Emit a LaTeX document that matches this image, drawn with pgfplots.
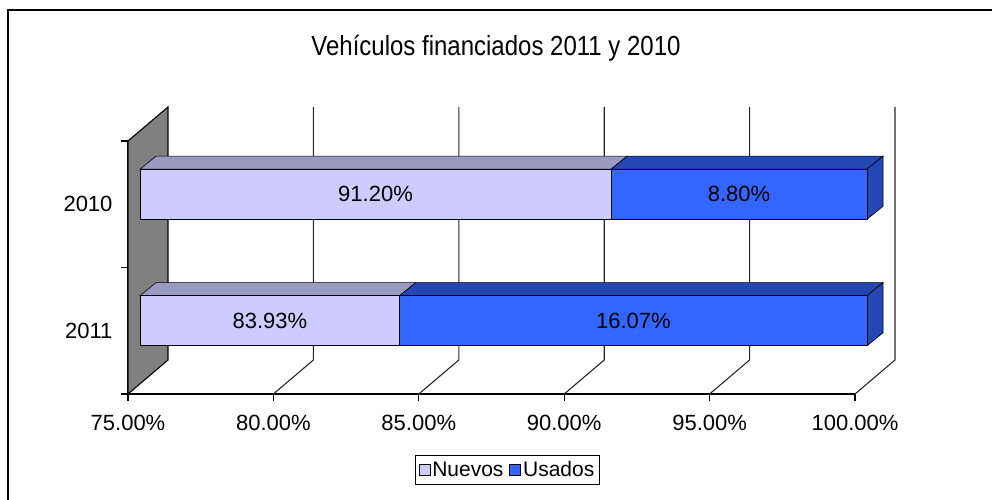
\documentclass[border=0pt]{standalone}
\usepackage{fontspec}
\setmainfont{Liberation Sans}
\usepackage{pgfplots}
\pgfplotsset{compat=1.18}

\definecolor{nuevos}{HTML}{CCCCFF}
\definecolor{nuevostop}{HTML}{9999C2}
\definecolor{usados}{HTML}{3366FF}
\definecolor{usadostop}{HTML}{2447B5}
\definecolor{wall}{HTML}{808080}

\begin{document}
\begin{tikzpicture}
\useasboundingbox (-128pt,-106pt) rectangle (864pt,394pt);
\draw[line width=1.2pt] (-120pt,-106pt) -- (-120pt,384pt) -- (864pt,384pt);
\node[font=\fontsize{24}{28}\selectfont] at (368pt,346pt) {\scalebox{1}[1.15]{Vehículos financiados 2011 y 2010}};

% front plane axis: ticks, labels, walls
\begin{axis}[
  at={(0pt,0pt)}, anchor=south west,
  width=727pt, height=253pt, scale only axis,
  xmin=75, xmax=100, ymin=-0.5, ymax=1.5,
  clip=false,
  axis x line*=bottom, axis y line*=left,
  axis line style={line width=1.5pt, black},
  xtick={75,80,85,90,95,100},
  xticklabels={75.00\%,80.00\%,85.00\%,90.00\%,95.00\%,100.00\%},
  xticklabel style={yshift=-11pt},
  ytick={-0.5,0.5,1.5}, yticklabels={},
  extra y ticks={0,1}, extra y tick labels={2011,2010},
  extra y tick style={major tick length=0pt, yticklabel style={xshift=-12pt}},
  tick align=outside, major tick length=7pt,
  tick style={line width=1.2pt, black},
  ticklabel style={font=\fontsize{22}{26}\selectfont},
]
% side wall
\fill[wall] (axis cs:75,-0.5) -- (axis cs:76.3755,-0.2312) -- (axis cs:76.3755,1.7688) -- (axis cs:75,1.5) -- cycle;
\draw[line width=1.1pt] (axis cs:75,-0.5) -- (axis cs:76.3755,-0.2312) -- (axis cs:76.3755,1.7688) -- (axis cs:75,1.5) -- cycle;
% floor diagonals and back gridlines
\pgfplotsinvokeforeach{80,85,90,95,100}{
  \draw[line width=1.1pt, black!85] (axis cs:#1,-0.5) -- (axis cs:{#1+1.3755},-0.2312) -- (axis cs:{#1+1.3755},1.7688);
}
\end{axis}

% bars, shifted towards the back
\begin{axis}[
  at={(12pt,10pt)}, anchor=south west,
  width=727pt, height=253pt, scale only axis,
  xmin=75, xmax=100, ymin=-0.5, ymax=1.5,
  clip=false, hide axis,
  legend columns=2,
  legend style={at={(0.5055,-0.340)}, anchor=center, draw=black, line width=0.8pt,
    font=\fontsize{21}{25}\selectfont, inner xsep=3pt, inner ysep=4pt,
    /tikz/every even column/.append style={column sep=4pt}},
]
% top faces
\addplot[fill=nuevostop, draw=black, line width=0.6pt, forget plot] coordinates {(75,0.198) (83.93,0.198) (84.48,0.301) (75.55,0.301)} --cycle;
\addplot[fill=usadostop, draw=black, line width=0.6pt, forget plot] coordinates {(83.93,0.198) (100,0.198) (100.55,0.301) (84.48,0.301)} --cycle;
\addplot[fill=nuevostop, draw=black, line width=0.6pt, forget plot] coordinates {(75,1.198) (91.20,1.198) (91.75,1.301) (75.55,1.301)} --cycle;
\addplot[fill=usadostop, draw=black, line width=0.6pt, forget plot] coordinates {(91.20,1.198) (100,1.198) (100.55,1.301) (91.75,1.301)} --cycle;
% right faces
\addplot[fill=usadostop, draw=black, line width=0.6pt, forget plot] coordinates {(100,-0.198) (100.55,-0.095) (100.55,0.301) (100,0.198)} --cycle;
\addplot[fill=usadostop, draw=black, line width=0.6pt, forget plot] coordinates {(100,0.802) (100.55,0.905) (100.55,1.301) (100,1.198)} --cycle;
% front faces
\addplot[fill=nuevos, draw=black, line width=0.6pt,
  legend image code/.code={\draw[fill=nuevos,draw=black,line width=0.6pt] (0pt,-5.5pt) rectangle (11pt,5.5pt);}]
  coordinates {(75,-0.198) (83.93,-0.198) (83.93,0.198) (75,0.198)} --cycle;
\addlegendentry{Nuevos}
\addplot[fill=usados, draw=black, line width=0.6pt,
  legend image code/.code={\draw[fill=usados,draw=black,line width=0.6pt] (0pt,-5.5pt) rectangle (11pt,5.5pt);}]
  coordinates {(83.93,-0.198) (100,-0.198) (100,0.198) (83.93,0.198)} --cycle;
\addlegendentry{Usados}
\addplot[fill=nuevos, draw=black, line width=0.6pt, forget plot] coordinates {(75,0.802) (91.20,0.802) (91.20,1.198) (75,1.198)} --cycle;
\addplot[fill=usados, draw=black, line width=0.6pt, forget plot] coordinates {(91.20,0.802) (100,0.802) (100,1.198) (91.20,1.198)} --cycle;
% value labels
\node[font=\fontsize{22}{26}\selectfont] at (axis cs:79.465,0) {83.93\%};
\node[font=\fontsize{22}{26}\selectfont] at (axis cs:91.965,0) {16.07\%};
\node[font=\fontsize{22}{26}\selectfont] at (axis cs:83.10,1) {91.20\%};
\node[font=\fontsize{22}{26}\selectfont] at (axis cs:95.60,1) {8.80\%};
\end{axis}
\end{tikzpicture}
\end{document}
